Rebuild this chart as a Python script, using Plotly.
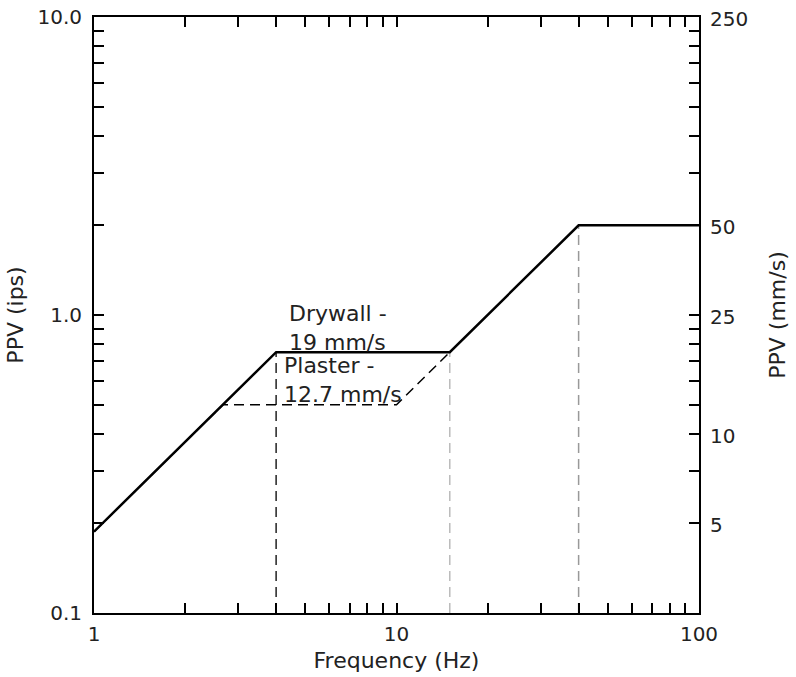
import math
import plotly.graph_objects as go

# Drywall limit curve (solid), ips vs Hz
drywall_freq = [1, 4, 15, 40, 100]
drywall_ppv = [0.1875, 0.75, 0.75, 2.0, 2.0]

# Plaster limit curve (dashed)
plaster_freq = [1, 2.67, 10, 15]
plaster_ppv = [0.1875, 0.5, 0.5, 0.75]

# Vertical dashed drop lines
drop_freq = [4, 15, 40]
drop_top = [0.75, 0.75, 2.0]
drop_color = ["#222222", "#bbbbbb", "#999999"]

left_ticks = [0.1, 1.0, 10.0]
left_ticktext = ["0.1", "1.0", "10.0"]
right_ticks = [5, 10, 25, 50, 250]
x_ticks = [1, 10, 100]

FONT = "DejaVu Sans"

minor_y = []
for dec in [0.1, 1.0]:
    for m in range(1, 10):
        minor_y.append(round(dec * m, 3))
minor_y.append(10.0)
minor_ytext = [left_ticktext[left_ticks.index(v)] if v in left_ticks else "" for v in minor_y]

minor_x = []
for dec in [1, 10]:
    for m in range(1, 10):
        minor_x.append(dec * m)
minor_x.append(100)
minor_xtext = [str(v) if v in x_ticks else "" for v in minor_x]

fig = go.Figure()

for f, top, c in zip(drop_freq, drop_top, drop_color):
    fig.add_trace(go.Scatter(x=[f, f], y=[0.1, top], mode="lines",
                             line=dict(color=c, width=1.5, dash="10px,6px"),
                             showlegend=False, hoverinfo="skip"))

fig.add_trace(go.Scatter(x=plaster_freq, y=plaster_ppv, mode="lines",
                         line=dict(color="black", width=1.5, dash="10px,6px"),
                         showlegend=False))
fig.add_trace(go.Scatter(x=drywall_freq, y=drywall_ppv, mode="lines",
                         line=dict(color="black", width=2.5),
                         showlegend=False))

# invisible trace for secondary axis
fig.add_trace(go.Scatter(x=[1], y=[10], yaxis="y2", mode="markers",
                         marker=dict(opacity=0), showlegend=False, hoverinfo="skip"))

axis_common = dict(showgrid=False, zeroline=False, showline=True, linecolor="black",
                   linewidth=2, ticks="inside", ticklen=10, tickwidth=2, tickcolor="black",
                   mirror="ticks", automargin=False,
                   tickfont=dict(family=FONT, size=20, color="#222"))

TFONT = dict(family=FONT, size=22, color="#222")

fig.update_layout(
    width=796, height=677,
    margin=dict(l=94, r=97, t=17, b=64),
    paper_bgcolor="white", plot_bgcolor="white",
    xaxis=dict(type="log", range=[0, 2], tickmode="array", tickvals=minor_x,
               ticktext=minor_xtext, ticklabelstandoff=2,
               title=dict(text="Frequency (Hz)", font=TFONT, standoff=8),
               **axis_common),
    yaxis=dict(type="log", range=[-1, 1], tickmode="array", tickvals=minor_y,
               ticktext=minor_ytext, ticklabelstandoff=6,
               title=dict(text="PPV (ips)", font=TFONT, standoff=8),
               **axis_common),
    yaxis2=dict(type="log", range=[math.log10(2.54), math.log10(254)], overlaying="y",
                side="right", showgrid=False, zeroline=False, showline=False, ticks="",
                tickmode="array", tickvals=right_ticks, ticktext=[str(v) for v in right_ticks],
                ticklabelstandoff=10, automargin=False,
                tickfont=dict(family=FONT, size=20, color="#222"),
                title=dict(text="PPV (mm/s)", font=TFONT, standoff=22)),
    annotations=[
        dict(x=0.638, y=math.log10(0.905), xref="x", yref="y", text="Drywall -<br>19 mm/s",
             showarrow=False, xanchor="left", yanchor="middle", align="left",
             font=TFONT),
        dict(x=0.621, y=math.log10(0.603), xref="x", yref="y", text="Plaster -<br>12.7 mm/s",
             showarrow=False, xanchor="left", yanchor="middle", align="left",
             font=TFONT),
    ],
)

fig.write_html("out.html")
